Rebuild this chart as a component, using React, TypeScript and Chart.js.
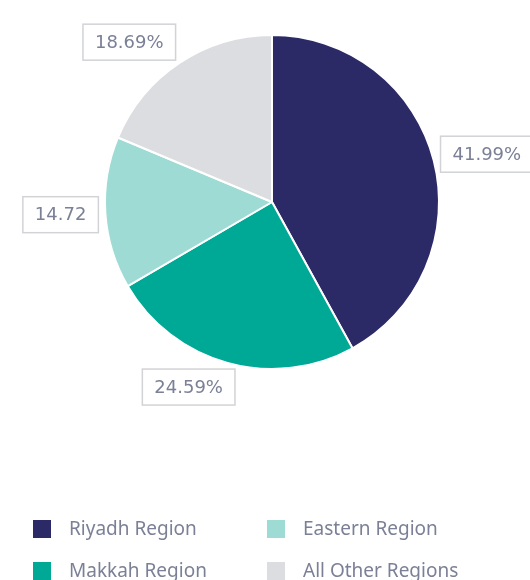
import React, { useEffect, useRef } from "react";
import { Chart, registerables } from "chart.js";

Chart.register(...registerables);

const categories = ["Riyadh Region", "Makkah Region", "Eastern Region", "All Other Regions"];
const shares = [41.99, 24.59, 14.72, 18.69];
const valueLabels = ["41.99%", "24.59%", "14.72", "18.69%"];
const colors = ["#2b2966", "#00a896", "#9edbd4", "#dcdde0"];

const TEXT_COLOR = "#7b8097";

const boxLabelPlugin = {
  id: "boxLabels",
  afterDatasetsDraw(chart: any) {
    const ctx = chart.ctx;
    const meta = chart.getDatasetMeta(0);
    ctx.save();
    ctx.font = '18px "DejaVu Sans"';
    ctx.textAlign = "center";
    ctx.textBaseline = "middle";
    meta.data.forEach((arc: any, i: number) => {
      const { x, y, startAngle, endAngle, outerRadius } = arc.getProps(
        ["x", "y", "startAngle", "endAngle", "outerRadius"],
        true
      );
      const mid = (startAngle + endAngle) / 2;
      const vx = Math.cos(mid);
      const vy = Math.sin(mid);
      const text = valueLabels[i];
      const w = ctx.measureText(text).width + 24;
      const h = 36;
      const r = outerRadius + 7;
      const sx = Math.sign(vx) * Math.min(1, Math.abs(vx) * 3);
      const cx = x + r * vx + (sx * w) / 2;
      const cy = y + r * vy + (vy * h) / 2;
      ctx.fillStyle = "#ffffff";
      ctx.fillRect(cx - w / 2, cy - h / 2, w, h);
      ctx.strokeStyle = "#d2d3d7";
      ctx.lineWidth = 1.5;
      ctx.strokeRect(cx - w / 2, cy - h / 2, w, h);
      ctx.fillStyle = TEXT_COLOR;
      ctx.fillText(text, cx, cy + 1);
    });
    ctx.restore();
  },
};

const legendPlugin = {
  id: "twoColLegend",
  afterDraw(chart: any) {
    const ctx = chart.ctx;
    const colX = [33, 267];
    const rowY = [520, 562];
    const box = 18;
    ctx.save();
    ctx.font = '19px "Noto Sans"';
    ctx.textAlign = "left";
    ctx.textBaseline = "middle";
    categories.forEach((label, i) => {
      const col = Math.floor(i / 2);
      const row = i % 2;
      const bx = colX[col];
      const by = rowY[row];
      ctx.fillStyle = colors[i];
      ctx.fillRect(bx, by, box, box);
      ctx.fillStyle = TEXT_COLOR;
      ctx.fillText(label, bx + 36, by + box / 2 + 1);
    });
    ctx.restore();
  },
};

export default function App() {
  const ref = useRef<HTMLCanvasElement | null>(null);
  useEffect(() => {
    if (!ref.current) return;
    const chart = new Chart(ref.current, {
      type: "pie",
      data: {
        labels: categories,
        datasets: [
          {
            data: shares,
            backgroundColor: colors,
            borderColor: "#ffffff",
            borderWidth: 2,
            hoverOffset: 0,
          },
        ],
      },
      options: {
        responsive: false,
        animation: false,
        events: [],
        layout: { padding: { left: 104, right: 90, top: 34, bottom: 210 } },
        plugins: {
          legend: { display: false },
          tooltip: { enabled: false },
        },
      },
      plugins: [boxLabelPlugin, legendPlugin],
    });
    return () => chart.destroy();
  }, []);
  return (
    <div style={{ position: "absolute", left: 0, top: 0, width: 530, height: 580, background: "#fff" }}>
      <canvas ref={ref} width={530} height={580} style={{ display: "block" }} />
    </div>
  );
}
